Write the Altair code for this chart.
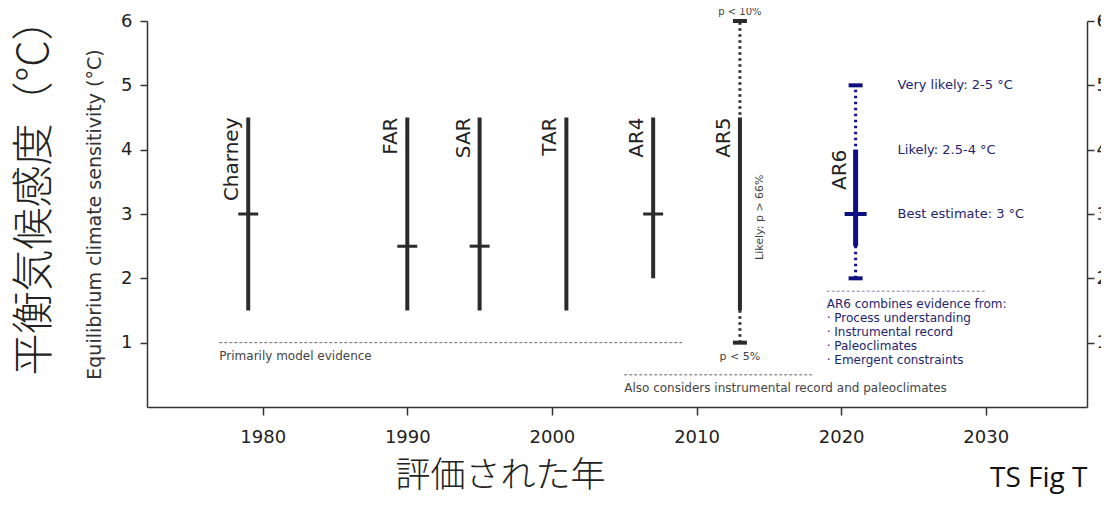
import altair as alt
import pandas as pd

# ---------------- data ----------------
names = ["Charney", "FAR", "SAR", "TAR", "AR4", "AR5"]
years = [1979, 1990, 1995, 2001, 2007, 2013]
likely_lo = [1.5, 1.5, 1.5, 1.5, 2.0, 1.5]
likely_hi = [4.5, 4.5, 4.5, 4.5, 4.5, 4.5]

best_years = [1979, 1990, 1995, 2007]
best_vals = [3.0, 2.5, 2.5, 3.0]

ar5_year = 2013
ar5_vlikely = [1.0, 6.0]

ar6_year = 2021
ar6_likely = [2.5, 4.0]
ar6_vlikely = [2.0, 5.0]
ar6_best = 3.0

x_ticks = [1980, 1990, 2000, 2010, 2020, 2030]
y_ticks = [1, 2, 3, 4, 5, 6]

ev_x = [1977, 2005, 2019]
ev_x2 = [2009, 2018, 2030]
ev_y = [1.0, 0.5, 1.8]
ev_text = [
    "Primarily model evidence",
    "Also considers instrumental record and paleoclimates",
    "AR6 combines evidence from:\n· Process understanding\n· Instrumental record\n· Paleoclimates\n· Emergent constraints",
]

ar6_notes = ["Very likely: 2-5 °C", "Likely: 2.5-4 °C", "Best estimate: 3 °C"]
ar6_note_y = [5.0, 4.0, 3.0]
ar6_note_x = 2023.9

BLACK = "#2b2b2b"
NAVY = "#0f0f80"
NAVY_TXT = "#24246e"
GRAY_TXT = "#444444"
FONT = "DejaVu Sans"
CJK = "Noto Sans CJK JP"

# ---------------- tables ----------------
bars = pd.DataFrame({"name": names, "year": years, "lo": likely_lo, "hi": likely_hi})
best = pd.DataFrame({"year": best_years, "best": best_vals})
dotted = pd.DataFrame({
    "year": [ar5_year, ar6_year],
    "lo": [ar5_vlikely[0], ar6_vlikely[0]],
    "hi": [ar5_vlikely[1], ar6_vlikely[1]],
    "c": [BLACK, NAVY],
})
caps = pd.DataFrame({
    "year": [ar5_year, ar5_year, ar6_year, ar6_year],
    "v": [ar5_vlikely[0], ar5_vlikely[1], ar6_vlikely[0], ar6_vlikely[1]],
    "c": [BLACK, BLACK, NAVY, NAVY],
})
ar6_bar = pd.DataFrame({"year": [ar6_year], "lo": [ar6_likely[0]], "hi": [ar6_likely[1]]})
ar6_b = pd.DataFrame({"year": [ar6_year], "best": [ar6_best]})
labels = pd.DataFrame({
    "name": names + ["AR6"],
    "year": years + [ar6_year],
    "top": likely_hi + [ar6_likely[1]],
})
ev = pd.DataFrame({
    "year": ev_x, "x2": ev_x2, "y": ev_y, "t": ev_text,
    "c": ["#666666", "#666666", "#8080b0"],
    "tc": [GRAY_TXT, GRAY_TXT, NAVY_TXT],
})
notes = pd.DataFrame({"year": [ar6_note_x] * 3, "y": ar6_note_y, "t": ar6_notes})
ar5_top = pd.DataFrame({"year": [ar5_year], "y": [ar5_vlikely[1]], "t": ["p < 10%"]})
ar5_bot = pd.DataFrame({"year": [ar5_year], "y": [ar5_vlikely[0]], "t": ["p < 5%"]})
ar5_side = pd.DataFrame({"year": [ar5_year], "y": [2.95], "t": ["Likely: p > 66%"]})

# ---------------- scales / axes ----------------
xs = alt.Scale(domain=[1972, 2037], nice=False, zero=False)
ys = alt.Scale(domain=[0, 6], nice=False, zero=True)

x_axis = alt.Axis(
    values=x_ticks, format="d", title="評価された年", tickSize=8, labelPadding=13,
    titleFont=CJK, titleFontSize=35, titleFontWeight=300, titleColor="#222222",
    titleX=353, titleY=79, titleBaseline="alphabetic", titleAlign="center",
)
y_left = alt.Axis(
    values=y_ticks, title="Equilibrium climate sensitivity (°C)", orient="left",
    titleFontSize=19, titleFontWeight="normal", titleColor="#333333", titlePadding=16,
)
y_right = alt.Axis(values=y_ticks, title=None, orient="right", labelPadding=2)


def X():
    return alt.X("year:Q", scale=xs, axis=x_axis)


def Y(field):
    return alt.Y(f"{field}:Q", scale=ys, axis=None)


# ---------------- layers ----------------
l_bars = alt.Chart(bars).mark_rule(strokeWidth=4, color=BLACK).encode(
    x=X(), y=alt.Y("lo:Q", scale=ys, axis=y_left), y2="hi:Q",
)
l_dotted = alt.Chart(dotted).mark_rule(strokeWidth=3, strokeDash=[2.5, 3.5]).encode(
    x=X(), y=alt.Y("lo:Q", scale=ys, axis=y_right), y2="hi:Q",
    color=alt.Color("c:N", scale=None),
)
l_best = alt.Chart(best).mark_tick(
    orient="horizontal", size=20, thickness=3, color=BLACK, opacity=1,
).encode(x=X(), y=Y("best"))
l_caps = alt.Chart(caps).mark_tick(
    orient="horizontal", size=14, thickness=4, opacity=1,
).encode(x=X(), y=Y("v"), color=alt.Color("c:N", scale=None))
l_ar6 = alt.Chart(ar6_bar).mark_rule(strokeWidth=5, color=NAVY).encode(
    x=X(), y=Y("lo"), y2="hi:Q",
)
l_ar6b = alt.Chart(ar6_b).mark_tick(
    orient="horizontal", size=22, thickness=4, color=NAVY, opacity=1,
).encode(x=X(), y=Y("best"))
l_labels = alt.Chart(labels).mark_text(
    angle=270, align="right", baseline="alphabetic", dy=-10,
    font=FONT, fontSize=20, color="#222222",
).encode(x=X(), y=Y("top"), text="name:N")

l_ev = alt.Chart(ev).mark_rule(strokeWidth=1, strokeDash=[3, 2]).encode(
    x=X(), x2="x2:Q", y=Y("y"), color=alt.Color("c:N", scale=None),
)
l_evt = alt.Chart(ev).mark_text(
    align="left", baseline="top", dy=8, lineBreak="\n", lineHeight=14,
    font=FONT, fontSize=12,
).encode(x=X(), y=Y("y"), text="t:N", color=alt.Color("tc:N", scale=None))

l_notes = alt.Chart(notes).mark_text(
    align="left", baseline="middle", font=FONT, fontSize=13, color=NAVY_TXT,
).encode(x=X(), y=Y("y"), text="t:N")

l_top = alt.Chart(ar5_top).mark_text(
    align="center", baseline="alphabetic", dy=-6, font=FONT, fontSize=10, color=GRAY_TXT,
).encode(x=X(), y=Y("y"), text="t:N")
l_bot = alt.Chart(ar5_bot).mark_text(
    align="center", baseline="middle", dy=14, font=FONT, fontSize=11, color=GRAY_TXT,
).encode(x=X(), y=Y("y"), text="t:N")
l_side = alt.Chart(ar5_side).mark_text(
    angle=270, align="center", baseline="middle", dy=20, font=FONT, fontSize=11, color=GRAY_TXT,
).encode(x=X(), y=Y("y"), text="t:N")

l_jp = alt.Chart(pd.DataFrame({"t": ["平衡気候感度（°C）"]})).mark_text(
    angle=270, align="center", baseline="alphabetic", font=CJK, fontSize=42,
    fontWeight=300, color="#222222",
).encode(x=alt.value(-99), y=alt.value(166), text="t:N")

l_fig = alt.Chart(pd.DataFrame({"t": ["TS Fig T"]})).mark_text(
    align="left", baseline="alphabetic", font="Open Sans", fontSize=28, color="#111111",
).encode(x=alt.value(843), y=alt.value(466), text="t:N")

chart = alt.layer(
    l_bars, l_dotted, l_ev, l_evt, l_best, l_caps, l_ar6, l_ar6b,
    l_labels, l_notes, l_top, l_bot, l_side, l_jp, l_fig,
).resolve_axis(y="independent").properties(
    width=940, height=386,
    autosize=alt.AutoSizeParams(type="none"),
    padding={"left": 139, "top": 13, "right": 14, "bottom": 87},
).configure_view(stroke=None).configure_axis(
    grid=False, domainColor="#333333", domainWidth=1.5, tickColor="#333333",
    tickWidth=1.5, tickSize=7, labelFont=FONT, labelFontSize=18, labelColor="#222222",
    labelPadding=8, titleFont=FONT,
)

chart.save("out.html", embed_options={"renderer": "svg", "actions": False})
